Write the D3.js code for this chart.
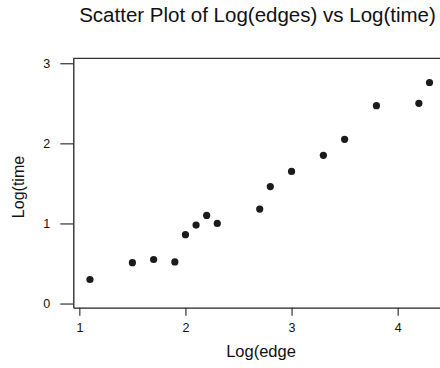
<!DOCTYPE html>
<html>
<head>
<meta charset="utf-8">
<script src="https://cdn.jsdelivr.net/npm/d3@7"></script>
<style>
  html, body { margin: 0; padding: 0; background: #fff; }
  svg { display: block; font-family: "Liberation Sans", Arial, sans-serif; }
</style>
</head>
<body>
<svg id="chart" width="440" height="368"></svg>
<script>
// Log10 of edge count and log10 of run time for each measured graph
const logEdges = [1.1, 1.5, 1.7, 1.9, 2.0, 2.1, 2.2, 2.3, 2.7, 2.8, 3.0, 3.3, 3.5, 3.8, 4.2, 4.3];
const logTime  = [0.30, 0.51, 0.55, 0.52, 0.86, 0.98, 1.10, 1.00, 1.18, 1.46, 1.65, 1.85, 2.05, 2.47, 2.50, 2.76];
const xTicks = [1, 2, 3, 4];
const yTicks = [0, 1, 2, 3];

const svg = d3.select("#chart");

const plot = { left: 73.3, top: 58.3, bottom: 307.7, right: 461 };

const x = d3.scaleLinear().domain([0.943, 4.597]).range([plot.left, plot.right]);
const y = d3.scaleLinear().domain([-0.052, 3.062]).range([plot.bottom, plot.top]);

// Title
svg.append("text")
  .attr("x", 257.5).attr("y", 22)
  .attr("text-anchor", "middle")
  .attr("font-size", 20.5)
  .attr("fill", "#111")
  .text("Scatter Plot of Log(edges) vs Log(time)");

// Top frame line
svg.append("line")
  .attr("x1", plot.left).attr("x2", plot.right)
  .attr("y1", plot.top).attr("y2", plot.top)
  .attr("stroke", "#333").attr("stroke-width", 1.2);

// Bottom axis
const xAxis = svg.append("g")
  .attr("transform", `translate(0,${plot.bottom})`)
  .call(d3.axisBottom(x).tickValues(xTicks).tickFormat(d3.format("d"))
    .tickSize(8).tickSizeOuter(0).tickPadding(7));

// Left axis
const yAxis = svg.append("g")
  .attr("transform", `translate(${plot.left},0)`)
  .call(d3.axisLeft(y).tickValues(yTicks).tickFormat(d3.format("d"))
    .tickSize(13).tickSizeOuter(0).tickPadding(10));

[xAxis, yAxis].forEach(g => {
  g.select(".domain").attr("stroke", "#222").attr("stroke-width", 1.3);
  g.selectAll(".tick line").attr("stroke", "#222").attr("stroke-width", 1.1);
  g.selectAll(".tick text").attr("font-size", 12.5).attr("fill", "#111")
    .attr("font-family", "'Liberation Sans', Arial, sans-serif");
});

// Axis titles
svg.append("text")
  .attr("x", 261).attr("y", 357)
  .attr("text-anchor", "middle")
  .attr("font-size", 16.5)
  .attr("fill", "#111")
  .text("Log(edge");

svg.append("text")
  .attr("transform", `translate(24,187) rotate(-90)`)
  .attr("text-anchor", "middle")
  .attr("font-size", 16)
  .attr("fill", "#111")
  .text("Log(time");

// Points
svg.append("g")
  .selectAll("circle")
  .data(logEdges.map((e, i) => [e, logTime[i]]))
  .join("circle")
  .attr("cx", d => x(d[0]))
  .attr("cy", d => y(d[1]))
  .attr("r", 3.6)
  .attr("fill", "#1b1b1b");
</script>
</body>
</html>
